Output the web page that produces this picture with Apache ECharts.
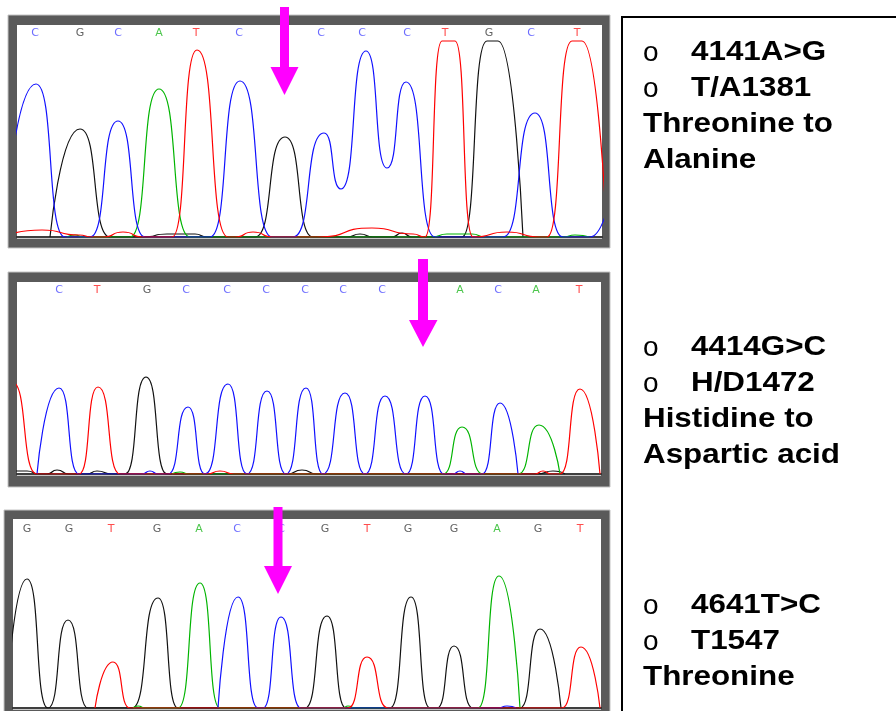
<!DOCTYPE html>
<html>
<head>
<meta charset="utf-8">
<title>Chromatograms</title>
<script src="https://cdn.jsdelivr.net/npm/echarts@6/dist/echarts.min.js"></script>
<style>
html, body { margin: 0; padding: 0; background: #fff; }
#main { width: 896px; height: 711px; }
</style>
</head>
<body>
<div id="main"></div>
<script>
// trace points: [scan position, signal]
// panel 1 - 4141A>G
var p1A = [[50, 0], [58, 2], [66, 0], [113, 0], [142, 148], [173, 0], [415, 0], [430, 3], [455, 3], [468, 0], [546, 0], [558, 2], [572, 0]];
var p1C = [[-14, 0], [19, 153], [48, 0], [73, 0], [101, 116], [128, 0], [193, 0], [223, 156], [255, 0], [276, 0], [307, 104], [324, 48], [349, 186], [370, 69], [389, 155], [418, 0], [486, 0], [518, 124], [546, 0], [573, 0], [610, 150]];
var p1G = [[33, 0], [63, 108], [93, 0], [126, 0], [150, 3], [178, 3], [190, 0], [238, 0], [268, 100], [296, 0], [330, 0], [343, 3], [356, 0], [375, 0], [385, 4], [395, 0], [445, 0], [470, 196], [481, 196], [506, 0]];
var p1T = [[-5, 3], [25, 7], [62, 2], [75, 0], [86, 0], [106, 5], [126, 0], [155, 0], [180, 187], [211, 0], [218, 0], [236, 5], [256, 0], [300, 0], [355, 9], [396, 3], [408, 0], [425, 196], [438, 196], [456, 0], [490, 5], [523, 0], [530, 0], [555, 196], [565, 196], [590, 0]];
var p1Pos = [18, 63, 101, 142, 179, 222, 268, 304, 345, 390, 428, 472, 514, 560];
var p1Calls = ['C', 'G', 'C', 'A', 'T', 'C', 'G', 'C', 'C', 'C', 'T', 'G', 'C', 'T'];

// panel 2 - 4414G>C
var p2A = [[155, 0], [163, 2], [172, 0], [426, 0], [445, 47], [466, 0], [501, 0], [522, 49], [543, 0]];
var p2C = [[20, 0], [42, 86], [62, 0], [125, 0], [133, 3], [141, 0], [151, 0], [171, 67], [188, 0], [211, 90], [230, 0], [250, 83], [269, 0], [289, 86], [306, 0], [328, 81], [348, 0], [368, 78], [389, 0], [408, 78], [427, 0], [436, 0], [443, 3], [450, 0], [465, 0], [483, 71], [501, 0]];
var p2G = [[-5, 3], [10, 3], [22, 0], [30, 0], [40, 4], [52, 0], [70, 0], [80, 3], [95, 0], [108, 0], [129, 97], [150, 0], [270, 0], [285, 4], [300, 0], [520, 0], [536, 3], [548, 0]];
var p2T = [[-32, 0], [-5, 92], [20, 0], [62, 0], [81, 87], [103, 0], [190, 0], [203, 3], [217, 0], [518, 0], [526, 3], [534, 0], [543, 0], [563, 85], [583, 0]];
var p2Pos = [42, 80, 130, 169, 210, 249, 288, 326, 365, 406, 443, 481, 519, 562];
var p2Calls = ['C', 'T', 'G', 'C', 'C', 'C', 'C', 'C', 'C', 'C', 'A', 'C', 'A', 'T'];

// panel 3 - 4641T>C
var p3A = [[120, 0], [125, 2], [132, 0], [165, 0], [187, 125], [207, 0], [330, 0], [335, 2], [342, 0], [465, 0], [486, 132], [507, 0]];
var p3C = [[205, 0], [225, 111], [245, 0], [250, 0], [268, 91], [288, 0], [485, 0], [494, 2], [503, 0]];
var p3G = [[-7, 0], [14, 129], [35, 0], [55, 88], [75, 0], [119, 0], [145, 110], [165, 0], [292, 0], [314, 92], [333, 0], [377, 0], [398, 111], [417, 0], [424, 0], [441, 62], [460, 0], [507, 0], [527, 79], [548, 0]];
var p3T = [[82, 0], [100, 46], [117, 0], [335, 0], [354, 51], [375, 0], [549, 0], [568, 61], [587, 0]];
var p3Pos = [14, 56, 98, 144, 186, 224, 268, 312, 354, 395, 441, 484, 525, 567];
var p3Calls = ['G', 'G', 'T', 'G', 'A', 'C', 'C', 'G', 'T', 'G', 'G', 'A', 'G', 'T'];

var notes1 = ['4141A>G', 'T/A1381', 'Threonine to', 'Alanine'];
var notes2 = ['4414G>C', 'H/D1472', 'Histidine to', 'Aspartic acid'];
var notes3 = ['4641T>C', 'T1547', 'Threonine'];

var traceColor = {A: '#00b400', C: '#1010ff', G: '#111111', T: '#ff0000'};
var callColor = {A: '#1fb81f', C: '#4646ff', G: '#383838', T: '#ff2020'};

var panels = [
    {grid: {left: 17, top: 25, width: 585, height: 212}, max: 212, traces: {A: p1A, C: p1C, G: p1G, T: p1T}, pos: p1Pos, calls: p1Calls, labelGap: 2},
    {grid: {left: 17, top: 282, width: 584, height: 192}, max: 192, traces: {A: p2A, C: p2C, G: p2G, T: p2T}, pos: p2Pos, calls: p2Calls, labelGap: 2},
    {grid: {left: 13, top: 519, width: 588, height: 189}, max: 189, traces: {A: p3A, C: p3C, G: p3G, T: p3T}, pos: p3Pos, calls: p3Calls, labelGap: 4}
];

var myChart = echarts.init(document.getElementById('main'));

var grids = [], xAxes = [], yAxes = [], series = [];
panels.forEach(function (p, i) {
    grids.push(p.grid);
    xAxes.push({
        gridIndex: i, type: 'value', min: 0, max: p.grid.width, z: 3,
        axisLine: {show: true, onZero: true, lineStyle: {color: '#000', width: 1.5}},
        axisTick: {show: false}, axisLabel: {show: false}, splitLine: {show: false}
    });
    yAxes.push({gridIndex: i, type: 'value', min: 0, max: p.max, show: false});
    ['G', 'A', 'C', 'T'].forEach(function (b) {
        series.push({
            type: 'line', xAxisIndex: i, yAxisIndex: i,
            data: p.traces[b],
            smooth: 0.65, smoothMonotone: 'x',
            symbol: 'none', silent: true, clip: true,
            lineStyle: {color: traceColor[b], width: 1.2},
            itemStyle: {color: traceColor[b]}
        });
    });
    // base calls along the top of each trace
    series.push({
        type: 'scatter', xAxisIndex: i, yAxisIndex: i, z: 4,
        symbol: 'circle', symbolSize: 1, silent: true, clip: false,
        itemStyle: {color: 'rgba(0,0,0,0)'},
        data: p.pos.map(function (x, k) {
            return {name: p.calls[k], value: [x, p.max], label: {color: callColor[p.calls[k]]}};
        }),
        label: {show: true, position: 'bottom', distance: p.labelGap, formatter: '{b}', fontSize: 11, fontFamily: 'DejaVu Sans'}
    });
});

var frames = [
    {outer: [8, 15, 602, 233], inner: [17, 25, 585, 214], base: 238.5},
    {outer: [8, 272, 602, 215], inner: [17, 282, 584, 194], base: 475.5},
    {outer: [4, 510, 606, 220], inner: [13, 519, 588, 191], base: 709.5}
];
var arrows = [
    [[280, 7], [289, 7], [289, 67], [298.5, 67], [284.5, 95], [270.5, 67], [280, 67]],
    [[418, 259], [428, 259], [428, 320], [437.5, 320], [423, 347], [409, 320], [418, 320]],
    [[273.5, 507], [282.5, 507], [282.5, 566], [292, 566], [278, 594], [264, 566], [273.5, 566]]
];

var graphics = [];
frames.forEach(function (f) {
    graphics.push({type: 'rect', z: 0, silent: true, shape: {x: f.outer[0], y: f.outer[1], width: f.outer[2], height: f.outer[3]},
        style: {fill: '#5a5a5a', stroke: '#c4c4c4', lineWidth: 1}});
    graphics.push({type: 'rect', z: 1, silent: true, shape: {x: f.inner[0], y: f.inner[1], width: f.inner[2], height: f.inner[3]},
        style: {fill: '#fff'}});
    graphics.push({type: 'line', z: 1, silent: true, shape: {x1: f.inner[0], y1: f.base, x2: f.inner[0] + f.inner[2], y2: f.base},
        style: {stroke: '#c8c8c8', lineWidth: 1}});
});
arrows.forEach(function (pts) {
    graphics.push({type: 'polygon', z: 10, silent: true, shape: {points: pts}, style: {fill: '#ff00ff'}});
});
graphics.push({type: 'rect', z: 10, silent: true, shape: {x: 622, y: 17, width: 400, height: 800},
    style: {fill: 'none', stroke: '#000', lineWidth: 2}});

function noteBlock(lines, ys) {
    lines.forEach(function (t, k) {
        var bullet = k < 2;
        if (bullet) {
            graphics.push({type: 'text', z: 10, silent: true, x: 643, y: ys[k] + 1,
                style: {text: 'o', fill: '#000', fontSize: 28, fontFamily: 'Liberation Sans',
                    align: 'left', textAlign: 'left', verticalAlign: 'middle', textVerticalAlign: 'middle'}});
        }
        graphics.push({type: 'text', z: 10, silent: true, x: bullet ? 691 : 643, y: ys[k], scaleX: 1.12,
            style: {text: t, fill: '#000', fontSize: 28, fontWeight: 'bold', fontFamily: 'Liberation Sans',
                align: 'left', textAlign: 'left', verticalAlign: 'middle', textVerticalAlign: 'middle'}});
    });
}
noteBlock(notes1, [52, 88, 124, 160]);
noteBlock(notes2, [347, 383, 419, 455]);
noteBlock(notes3, [605, 641, 677]);

var option = {
    backgroundColor: '#fff',
    animation: false,
    grid: grids,
    xAxis: xAxes,
    yAxis: yAxes,
    series: series,
    graphic: {elements: graphics}
};

myChart.setOption(option);
</script>
</body>
</html>
